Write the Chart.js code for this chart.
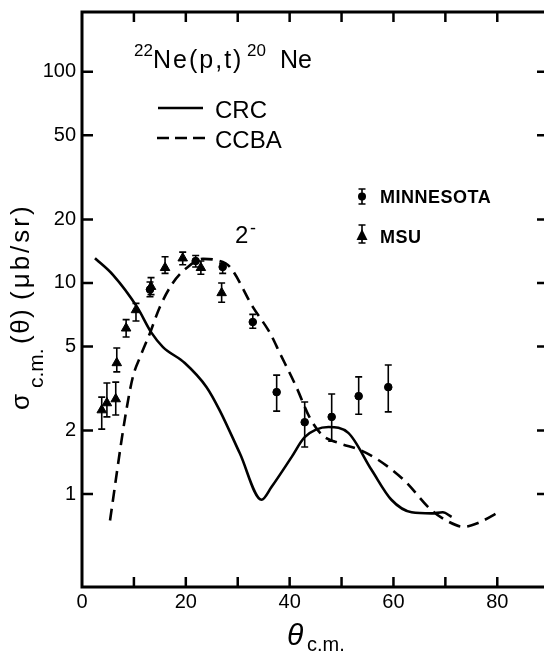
<!DOCTYPE html>
<html>
<head>
<meta charset="utf-8">
<script src="https://cdn.jsdelivr.net/npm/chart.js@4"></script>
<style>
  html, body { margin: 0; padding: 0; background: #fff; }
  canvas { display: block; }
</style>
</head>
<body>
<canvas id="myChart" width="544" height="653" style="width:544px;height:653px"></canvas>
<script>
// CRC curve (solid)
let crcX = [2.5, 6, 10.6, 13.4, 15.6, 19.8, 24, 26.5, 30.4, 34.6, 36.5, 40.4, 42.9, 47.5, 51.3, 55.8, 59.6, 63.5, 67.3, 69.5, 71.2]
let crcY = [13.1, 10.9, 7.7, 5.8, 4.97, 4.18, 3.21, 2.5, 1.56, 0.94, 1.08, 1.5, 1.86, 2.08, 1.95, 1.3, 0.94, 0.82, 0.81, 0.82, 0.78]

// CCBA curve (dashed)
let ccbaX = [5.4, 8.3, 9.8, 11.2, 13.1, 15, 17.5, 20.2, 23.3, 26, 28.5, 32.9, 36.2, 38.1, 41.3, 43.8, 46.3, 49.6, 53.5, 57.1, 62.1, 67.3, 70.6, 73.5, 76.3, 80.2]
let ccbaY = [0.75, 2.3, 3.59, 4.46, 5.8, 7.7, 10, 11.8, 13, 12.8, 11.9, 7.7, 5.8, 4.66, 3.21, 2.32, 1.9, 1.74, 1.62, 1.45, 1.16, 0.84, 0.74, 0.7, 0.73, 0.82]

// MINNESOTA data (dots)
let minnX = [13.1, 21.9, 27.1, 32.9, 37.5, 42.9, 48.1, 53.3, 59.0]
let minnY = [9.3, 12.7, 11.9, 6.53, 3.04, 2.19, 2.32, 2.91, 3.21]
let minnLo = [8.6, 11.9, 11.1, 6.1, 2.47, 1.67, 1.78, 2.39, 2.45]
let minnHi = [10.1, 13.5, 12.4, 7.1, 3.66, 2.73, 2.98, 3.59, 4.09]

// MSU data (triangles)
let msuX = [3.8, 4.8, 6.5, 6.7, 8.5, 10.4, 13.3, 16, 19.4, 22.9, 26.9]
let msuY = [2.5, 2.7, 2.82, 4.18, 6.1, 7.45, 9.6, 11.8, 13.1, 11.8, 8.97]
let msuLo = [2.03, 2.32, 2.37, 3.79, 5.55, 6.6, 8.8, 11.1, 12.2, 11.0, 8.1]
let msuHi = [2.88, 3.36, 3.39, 4.92, 6.7, 8.0, 10.6, 13.3, 14.0, 12.7, 10.0]

let yTickValues = [1, 2, 5, 10, 20, 50, 100]
let xTickValues = [0, 10, 20, 30, 40, 50, 60, 70, 80]
let xLabelValues = [0, 20, 40, 60, 80]

const FONT = "'Liberation Sans', Arial, sans-serif"

function toPoints(xs, ys) {
	return xs.map((x, i) => ({ x: x, y: ys[i] }))
}

function errBars(ctx, xs, ys, lo, hi, sx, sy) {
	for (let i = 0; i < xs.length; i++) {
		let px = sx.getPixelForValue(xs[i])
		let top = sy.getPixelForValue(hi[i])
		let bot = sy.getPixelForValue(lo[i])
		ctx.beginPath()
		ctx.moveTo(px, top)
		ctx.lineTo(px, bot)
		ctx.moveTo(px - 3.5, top)
		ctx.lineTo(px + 3.5, top)
		ctx.moveTo(px - 3.5, bot)
		ctx.lineTo(px + 3.5, bot)
		ctx.stroke()
	}
}

const decorPlugin = {
	id: 'decor',
	afterDatasetsDraw(chart) {
		const { ctx, scales } = chart
		ctx.save()
		ctx.strokeStyle = '#000'
		ctx.lineWidth = 1.6
		errBars(ctx, minnX, minnY, minnLo, minnHi, scales.x, scales.y)
		errBars(ctx, msuX, msuY, msuLo, msuHi, scales.x, scales.y)
		ctx.restore()
	},
	afterDraw(chart) {
		const { ctx, chartArea: a, scales } = chart
		const sx = scales.x, sy = scales.y
		ctx.save()
		ctx.strokeStyle = '#000'
		ctx.fillStyle = '#000'

		// frame
		ctx.lineWidth = 3
		ctx.beginPath()
		ctx.moveTo(a.right, a.top)
		ctx.lineTo(a.left, a.top)
		ctx.lineTo(a.left, a.bottom)
		ctx.lineTo(a.right, a.bottom)
		ctx.stroke()

		// inward ticks
		ctx.lineWidth = 2.5
		ctx.beginPath()
		xTickValues.forEach((v) => {
			if (v === 0) return
			let px = sx.getPixelForValue(v)
			ctx.moveTo(px, a.bottom)
			ctx.lineTo(px, a.bottom - 10)
			ctx.moveTo(px, a.top)
			ctx.lineTo(px, a.top + 10)
		})
		yTickValues.forEach((v) => {
			let py = sy.getPixelForValue(v)
			ctx.moveTo(a.left, py)
			ctx.lineTo(a.left + 11, py)
			ctx.moveTo(a.right, py)
			ctx.lineTo(a.right - 7, py)
		})
		ctx.stroke()

		// reaction title
		ctx.textAlign = 'left'
		ctx.textBaseline = 'alphabetic'
		ctx.font = '17px ' + FONT
		ctx.fillText('22', 134, 56)
		ctx.fillText('20', 247, 56)
		ctx.font = '25px ' + FONT
		ctx.letterSpacing = '2px'
		ctx.fillText('Ne(p,t)', 153, 68)
		ctx.letterSpacing = '0px'
		ctx.fillText('Ne', 280, 68)

		// curve legend
		ctx.lineWidth = 2.5
		ctx.beginPath()
		ctx.moveTo(158, 108)
		ctx.lineTo(203, 108)
		ctx.stroke()
		ctx.setLineDash([12, 6])
		ctx.beginPath()
		ctx.moveTo(157, 138)
		ctx.lineTo(205, 138)
		ctx.stroke()
		ctx.setLineDash([])
		ctx.font = '24px ' + FONT
		ctx.fillText('CRC', 215, 118)
		ctx.fillText('CCBA', 215, 148)

		// state label
		ctx.font = '24px ' + FONT
		ctx.fillText('2', 235, 243)
		ctx.font = '18px ' + FONT
		ctx.fillText('-', 250, 234)

		// data legend
		ctx.lineWidth = 1.6
		ctx.beginPath()
		ctx.moveTo(362, 189); ctx.lineTo(362, 204)
		ctx.moveTo(358.5, 189); ctx.lineTo(365.5, 189)
		ctx.moveTo(358.5, 204); ctx.lineTo(365.5, 204)
		ctx.moveTo(362, 225); ctx.lineTo(362, 243)
		ctx.moveTo(358.5, 225); ctx.lineTo(365.5, 225)
		ctx.moveTo(358.5, 243); ctx.lineTo(365.5, 243)
		ctx.stroke()
		ctx.beginPath()
		ctx.arc(362, 196.5, 4, 0, Math.PI * 2)
		ctx.fill()
		ctx.beginPath()
		ctx.moveTo(362, 229)
		ctx.lineTo(367.5, 240)
		ctx.lineTo(356.5, 240)
		ctx.closePath()
		ctx.fill()
		ctx.font = 'bold 18px ' + FONT
		ctx.letterSpacing = '0.5px'
		ctx.fillText('MINNESOTA', 380, 203)
		ctx.fillText('MSU', 380, 243)
		ctx.letterSpacing = '0px'

		// x axis title
		ctx.font = 'italic 30px ' + FONT
		ctx.fillText('θ', 287, 645)
		ctx.font = '20px ' + FONT
		ctx.fillText('c.m.', 307, 651)

		// y axis title
		ctx.save()
		ctx.translate(29, 410)
		ctx.rotate(-Math.PI / 2)
		ctx.font = '26px ' + FONT
		ctx.fillText('σ', 0, 0)
		ctx.font = '21px ' + FONT
		ctx.fillText('c.m.', 22, 14)
		ctx.font = '26px ' + FONT
		ctx.letterSpacing = '1.5px'
		ctx.fillText('(θ)', 66, 0)
		ctx.letterSpacing = '3px'
		ctx.fillText('(μb/sr)', 110, 0)
		ctx.letterSpacing = '0px'
		ctx.restore()

		ctx.restore()
	},
}

var ctx = document.getElementById('myChart').getContext('2d')
var myChart = new Chart(ctx, {
	type: 'scatter',
	data: {
		datasets: [
			{
				label: 'CRC',
				data: toPoints(crcX, crcY),
				showLine: true,
				borderColor: '#000',
				borderWidth: 2.6,
				pointRadius: 0,
				cubicInterpolationMode: 'monotone',
				fill: false,
			},
			{
				label: 'CCBA',
				data: toPoints(ccbaX, ccbaY),
				showLine: true,
				borderColor: '#000',
				borderWidth: 2.6,
				borderDash: [12, 7],
				pointRadius: 0,
				cubicInterpolationMode: 'monotone',
				fill: false,
			},
			{
				label: 'MINNESOTA',
				data: toPoints(minnX, minnY),
				pointStyle: 'circle',
				pointRadius: 3.8,
				backgroundColor: '#000',
				borderColor: '#000',
			},
			{
				label: 'MSU',
				data: toPoints(msuX, msuY),
				pointStyle: 'triangle',
				pointRadius: 5.5,
				backgroundColor: '#000',
				borderColor: '#000',
			},
		],
	},
	options: {
		responsive: false,
		animation: false,
		devicePixelRatio: 1,
		layout: { autoPadding: false, padding: { top: 12, left: 0, right: 0, bottom: 0 } },
		plugins: {
			legend: { display: false },
			tooltip: { enabled: false },
		},
		scales: {
			x: {
				type: 'linear',
				min: 0,
				max: 89,
				grid: { display: false, drawTicks: false },
				border: { display: false },
				afterFit: (s) => {
					s.height = 66
					s.paddingLeft = 0
					s.paddingRight = 0
				},
				ticks: {
					stepSize: 10,
					autoSkip: false,
					maxRotation: 0,
					padding: 3,
					color: '#000',
					font: { family: FONT, size: 20 },
					callback: (v) => (xLabelValues.includes(v) ? String(v) : ''),
				},
			},
			y: {
				type: 'logarithmic',
				min: 0.363,
				max: 192,
				grid: { display: false, drawTicks: false },
				border: { display: false },
				afterFit: (s) => {
					s.width = 82
					s.paddingTop = 0
					s.paddingBottom = 0
				},
				afterBuildTicks: (s) => {
					s.ticks = yTickValues.map((v) => ({ value: v }))
				},
				ticks: {
					padding: 6,
					color: '#000',
					font: { family: FONT, size: 20 },
					callback: (v) => String(v),
				},
			},
		},
	},
	plugins: [decorPlugin],
})
</script>
</body>
</html>
